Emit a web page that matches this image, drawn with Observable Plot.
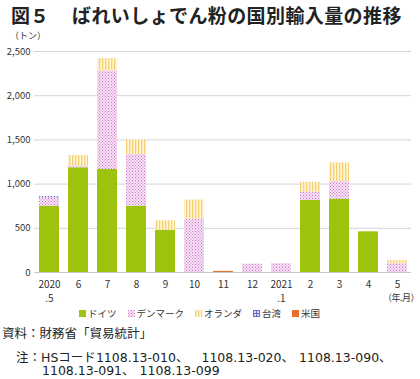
<!DOCTYPE html>
<html><head><meta charset="utf-8">
<script src="https://cdn.jsdelivr.net/npm/d3@7"></script>
<script src="https://cdn.jsdelivr.net/npm/@observablehq/plot@0.6"></script>
<style>
body{margin:0;width:420px;height:379px;position:relative;background:#fff;font-family:"Noto Sans CJK JP","Noto Sans",sans-serif;color:#222;overflow:hidden}
.abs{position:absolute;white-space:nowrap}
#title{top:3.5px;left:11px;font-size:19px;font-weight:bold;color:#222;line-height:21px}
#title .t{margin-left:23px;letter-spacing:0.4px}
#unit{top:30px;left:10px;font-size:9px;color:#333;line-height:12px}
#unit2{top:292px;right:1px;font-size:9px;color:#333;line-height:12px;letter-spacing:-0.5px}
#chart{top:36px;left:0}
#legend{top:307px;left:79px;display:flex;font-size:9.5px;color:#333;gap:11px;line-height:12px}
#legend span{display:flex;align-items:center}
#legend svg{margin-right:2px}
.ln{font-size:12.5px;color:#222;line-height:18px}
.num{font-family:"DejaVu Sans",sans-serif}
.c{margin-right:5px}
#src{top:324.3px;left:2px}
#note1{top:347.8px;left:3.5px}
#note2{top:361.4px;left:42px}
</style></head>
<body>
<div id="title" class="abs">図５<span class="t">ばれいしょでん粉の国別輸入量の推移</span></div>
<div id="unit" class="abs">（トン）</div>
<div id="chart" class="abs"></div>
<div id="unit2" class="abs">（年.月）</div>
<div id="legend" class="abs"></div>
<div id="src" class="abs ln">資料：財務省「貿易統計」</div>
<div id="note1" class="abs ln">　注：<span class="num">HS</span>コード<span class="num">1108.13-010</span><span class="c" style="margin-right:13px">、</span><span class="num">1108.13-020</span><span class="c">、</span><span class="num">1108.13-090</span>、</div>
<div id="note2" class="abs ln"><span class="num">1108.13-091</span><span class="c">、</span><span class="num">1108.13-099</span></div>
<script>
const months = ["2020\n.5","6","7","8","9","10","11","12","2021\n.1","2","3","4","5"];
const countries = ["ドイツ","デンマーク","オランダ","台湾","米国"];
const germany     = [750,1185,1165,750,475,0,0,0,0,815,830,460,0];
const denmark     = [95,20,1115,585,0,605,0,95,100,95,200,0,100];
const netherlands = [0,118,140,165,110,215,0,0,0,110,210,0,35];
const taiwan      = [15,0,0,0,0,0,0,0,0,0,0,0,0];
const usa         = [0,0,0,0,0,0,12,0,0,0,0,0,0];
const yTicks = [0,500,1000,1500,2000,2500];
const fills = ["#9dc30f","url(#pDK)","url(#pNL)","url(#pTW)","#e8702a"];

const series = [germany, denmark, netherlands, taiwan, usa];
const data = [];
months.forEach((m, i) => {
  countries.forEach((c, j) => {
    data.push({month: m, country: c, value: series[j][i]});
  });
});

const defs = `<defs>
<pattern id="pDK" width="3" height="3" patternUnits="userSpaceOnUse">
<rect width="3" height="3" fill="#f7e4f4"/>
<rect x="0" y="0" width="1" height="1" fill="#d070c8"/>
<rect x="1.5" y="1.5" width="1" height="1" fill="#d070c8"/>
</pattern>
<pattern id="pNL" width="3" height="3" patternUnits="userSpaceOnUse">
<rect width="3" height="3" fill="#fff6d8"/>
<rect x="0" y="0" width="1.3" height="3" fill="#f6d070"/>
</pattern>
<pattern id="pTW" width="3" height="3" patternUnits="userSpaceOnUse">
<rect width="3" height="3" fill="#dcdcf4"/>
<rect x="0" y="0" width="3" height="1" fill="#6a6ad0"/>
<rect x="0" y="0" width="1" height="3" fill="#6a6ad0"/>
</pattern>
</defs>`;

const plot = Plot.plot({
  width: 420,
  height: 275,
  marginLeft: 34,
  marginRight: 9,
  marginTop: 15,
  marginBottom: 39,
  style: {fontFamily: '"Noto Sans CJK JP","Noto Sans",sans-serif', fontSize: "9.5px", color: "#333", background: "transparent"},
  x: {domain: months, paddingInner: 0.315, paddingOuter: 0.11, label: null},
  y: {domain: [0, 2500], label: null},
  color: {domain: countries, range: fills},
  marks: [
    Plot.gridY(yTicks, {stroke: "#d4d4d4", strokeOpacity: 1}),
    Plot.barY(data, {x: "month", y: "value", fill: "country", order: countries}),
    Plot.ruleY([0], {stroke: "#c8c8c8"}),
    Plot.ruleX([0], {frameAnchor: "left", stroke: "#c8c8c8"}),
    Plot.axisY(yTicks, {tickSize: 0, tickPadding: 4, tickFormat: d3.format(","), fontSize: 9.5}),
    Plot.axisX({tickSize: 0, tickPadding: 6, fontSize: 10, lineHeight: 1.4})
  ]
});
plot.insertAdjacentHTML("afterbegin", defs);
document.getElementById("chart").appendChild(plot);

const leg = document.getElementById("legend");
countries.forEach((c, j) => {
  const s = document.createElement("span");
  s.innerHTML = `<svg width="7" height="7"><rect width="7" height="7" fill="${fills[j]}"/></svg>${c}`;
  leg.appendChild(s);
});
</script>
</body></html>
